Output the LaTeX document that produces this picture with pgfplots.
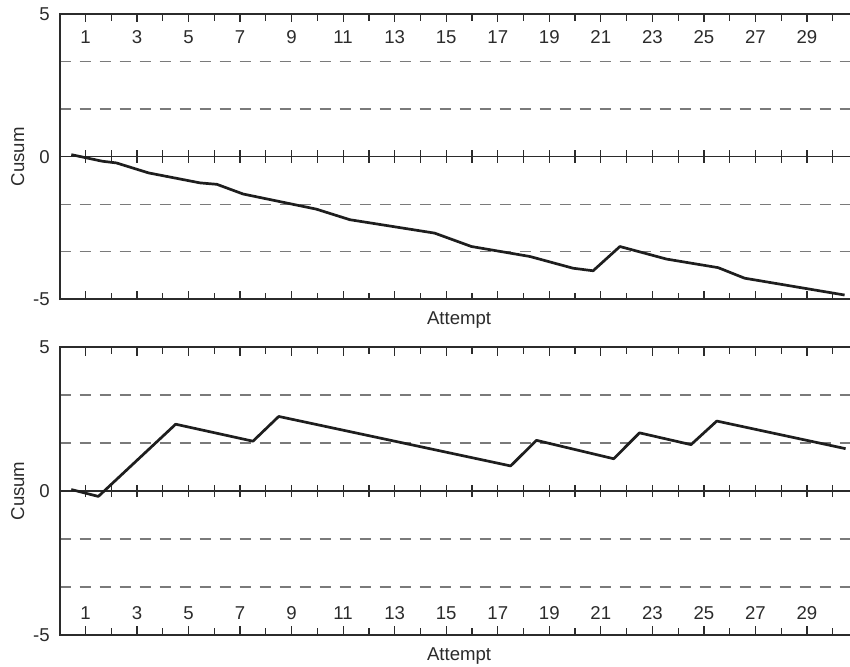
\documentclass[border=0pt]{standalone}
\usepackage{fontspec}
\setmainfont{Liberation Sans}
\usepackage{pgfplots}
\pgfplotsset{compat=1.18}
\definecolor{axisc}{HTML}{2B2B2B}
\definecolor{dashc}{HTML}{7A7A7A}
\definecolor{linec}{HTML}{1E1E1E}
\newcommand\lab{\fontsize{9.3}{11}\selectfont}
\pgfplotsset{
  cusum/.style={
    scale only axis, width=395.15pt,
    xmin=0, xmax=30.67, ymin=-5, ymax=5,
    hide axis, clip=false, anchor=south west,
  },
}
% #1 = y (data) of the tick-number row
\newcommand{\cusumframe}[1]{%
  \draw[dashc, line width=0.65pt, dash pattern=on 5.5pt off 4.5pt] (axis cs:0,3.333) -- (axis cs:30.67,3.333);
  \draw[dashc, line width=0.65pt, dash pattern=on 5.5pt off 4.5pt] (axis cs:0,1.667) -- (axis cs:30.67,1.667);
  \draw[dashc, line width=0.65pt, dash pattern=on 5.5pt off 4.5pt] (axis cs:0,-1.667) -- (axis cs:30.67,-1.667);
  \draw[dashc, line width=0.65pt, dash pattern=on 5.5pt off 4.5pt] (axis cs:0,-3.333) -- (axis cs:30.67,-3.333);
  \draw[axisc, line width=0.85pt] (axis cs:0,5) -- (axis cs:30.67,5);
  \draw[axisc, line width=0.85pt] (axis cs:0,-5) -- (axis cs:30.67,-5);
  \draw[axisc, line width=0.85pt] (axis cs:0,0) -- (axis cs:30.67,0);
  \draw[axisc, line width=0.85pt] (axis cs:0,-5.03) -- (axis cs:0,5.03);
  \pgfplotsinvokeforeach{1,3,...,29}{%
    \draw[axisc, line width=0.6pt] (axis cs:##1,5) -- ++(0pt,-4.2pt);
    \draw[axisc, line width=0.6pt] (axis cs:##1,-5) -- ++(0pt,4.2pt);
    \draw[axisc, line width=0.6pt] ([yshift=-3.1pt]axis cs:##1,0) -- ++(0pt,6.2pt);
    \node[font=\lab, inner sep=0pt, text=axisc] at (axis cs:##1,#1) {##1};
  }
  \pgfplotsinvokeforeach{2,4,...,30}{%
    \draw[axisc, line width=0.6pt] (axis cs:##1,5) -- ++(0pt,-3.3pt);
    \draw[axisc, line width=0.6pt] (axis cs:##1,-5) -- ++(0pt,3.3pt);
    \draw[axisc, line width=0.6pt] ([yshift=-3.1pt]axis cs:##1,0) -- ++(0pt,6.2pt);
  }
  \node[font=\lab, anchor=east, inner sep=0pt, text=axisc] at ([xshift=-4.8pt]axis cs:0,5) {5};
  \node[font=\lab, anchor=east, inner sep=0pt, text=axisc] at ([xshift=-4.8pt]axis cs:0,0) {0};
  \node[font=\lab, anchor=east, inner sep=0pt, text=axisc] at ([xshift=-4.8pt]axis cs:0,-5) {-5};
  \node[font=\lab, rotate=90, anchor=base, inner sep=0pt, text=axisc] at ([xshift=-17.8pt]axis cs:0,0) {Cusum};
  \node[font=\lab, anchor=base, inner sep=0pt, text=axisc] at ([yshift=-12.8pt]axis cs:15.5,-5) {Attempt};
}
\begin{document}
\begin{tikzpicture}
\begin{axis}[cusum, at={(29.85pt,183.35pt)}, height=142.65pt]
  \cusumframe{4.2}
  \addplot[linec, line width=1.35pt, line join=round, mark=none] coordinates {
    (0.45,0.07) (1.65,-0.16) (2.2,-0.22) (3.45,-0.57) (5.45,-0.92)
    (6.1,-0.97) (7.12,-1.31) (9.96,-1.84) (11.26,-2.21) (14.55,-2.68)
    (15.98,-3.15) (18.25,-3.50) (19.92,-3.91) (20.7,-4.00) (21.74,-3.15)
    (23.55,-3.59) (25.55,-3.89) (26.58,-4.26) (30.46,-4.85)
  };
\end{axis}
\begin{axis}[cusum, at={(29.85pt,15.6pt)}, height=143.85pt]
  \cusumframe{-4.25}
  \addplot[linec, line width=1.35pt, line join=round, mark=none] coordinates {
    (0.45,0.05) (1.5,-0.19) (4.5,2.32) (7.5,1.73) (8.5,2.59) (17.5,0.87)
    (18.5,1.76) (21.5,1.12) (22.5,2.02) (24.5,1.61) (25.5,2.43) (30.5,1.47)
  };
\end{axis}
\pgfresetboundingbox
\path[use as bounding box] (0,0) rectangle (425pt,333pt);
\end{tikzpicture}
\end{document}
